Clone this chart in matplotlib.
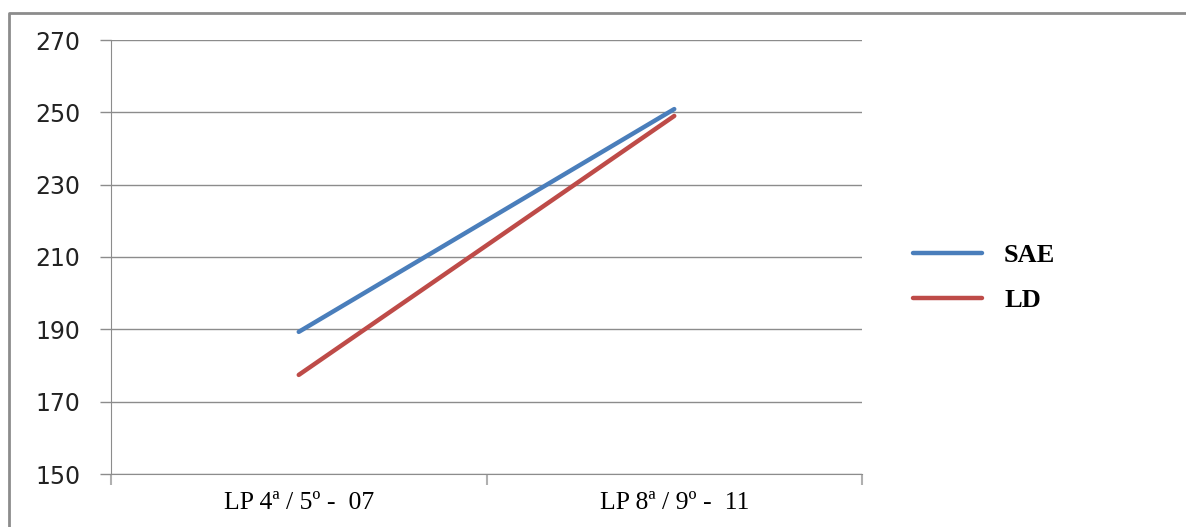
import matplotlib
matplotlib.use("Agg")
import matplotlib.pyplot as plt
from matplotlib.lines import Line2D

categories = ["LP 4ª / 5º -  07", "LP 8ª / 9º -  11"]
sae = [189.3, 250.9]
ld = [177.4, 249.0]
y_ticks = [150, 170, 190, 210, 230, 250, 270]

BLUE = "#4A7EBB"
RED = "#BE4B48"
GRAY = "#8C8C8C"

fig = plt.figure(figsize=(11.86, 5.27), dpi=100)
ax = fig.add_axes([111 / 1186, 53 / 527, 751 / 1186, 434 / 527])

x = list(range(len(categories)))
ax.plot(x, sae, color=BLUE, lw=3.2, solid_capstyle="round", label="SAE")
ax.plot(x, ld, color=RED, lw=3.2, solid_capstyle="round", label="LD")

ax.set_xlim(-0.5, len(categories) - 0.5)
ax.set_ylim(150, 270)
ax.set_yticks(y_ticks)
ax.set_yticklabels([str(v) for v in y_ticks], fontsize=17, family="DejaVu Sans", color="#222222")
ax.tick_params(axis="y", length=8, width=1, color=GRAY, pad=14)

ax.set_xticks(x)
ax.set_xticklabels(categories, fontsize=18.5, family="Liberation Serif")
ax.set_xticks([-0.5, 0.5, 1.5], minor=True)
ax.tick_params(axis="x", which="major", length=0, pad=13)
ax.tick_params(axis="x", which="minor", length=8, width=1.5, color="#B0B0B0")

ax.grid(True, axis="y", color=GRAY, lw=1)
ax.set_axisbelow(True)
for side in ["top", "right"]:
    ax.spines[side].set_visible(False)
ax.spines["left"].set_color(GRAY)
ax.spines["bottom"].set_color(GRAY)

leg = ax.legend(loc="upper left", bbox_to_anchor=(913 / 1186, 0.537),
                bbox_transform=fig.transFigure, frameon=False,
                prop={"family": "Liberation Serif", "weight": "bold", "size": 19},
                handlelength=2.6, handletextpad=0.85, labelspacing=0.8,
                borderpad=0, borderaxespad=0)

# outer frame (top and left edges only)
fig.add_artist(Line2D([9 / 1186, 9 / 1186, 1.0], [0.0, 1 - 13 / 527, 1 - 13 / 527],
                      transform=fig.transFigure, color=GRAY, lw=2))

fig.savefig("out.png", dpi=100)
